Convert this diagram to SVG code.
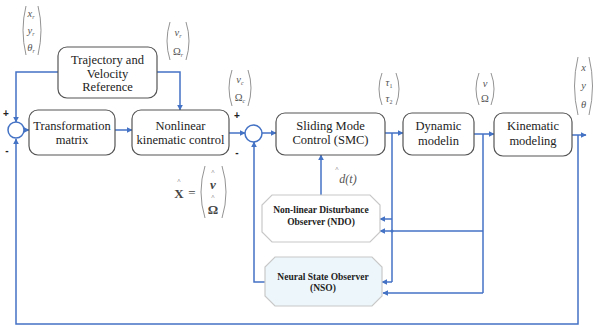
<svg xmlns="http://www.w3.org/2000/svg" width="593" height="327" viewBox="0 0 593 327">
<defs>
<marker id="ah" viewBox="0 0 10 10" refX="9" refY="5" markerWidth="6" markerHeight="6" markerUnits="userSpaceOnUse" orient="auto">
<path d="M0,0 L10,5 L0,10 z" fill="#4472c4"/>
</marker>
<style>
.box{fill:#fff;stroke:#555;stroke-width:1.2}
.obs{stroke:#c8c8c8;stroke-width:1.2}
.t{font-family:"Liberation Serif",serif;font-size:12.5px;fill:#222;text-anchor:middle}
.ob{font-family:"Liberation Serif",serif;font-size:9.5px;font-weight:bold;fill:#222;text-anchor:middle}
.m{font-family:"Liberation Serif",serif;font-style:italic;font-size:10.5px;fill:#555;text-anchor:middle}
.mu{font-family:"Liberation Serif",serif;font-size:10.5px;fill:#555;text-anchor:middle}
.s{font-size:6px}
.pm{font-family:"Liberation Sans",sans-serif;font-size:10px;font-weight:bold;fill:#222;text-anchor:middle}
.par{fill:none;stroke:#777;stroke-width:0.8}
.c{fill:none;stroke:#4472c4;stroke-width:1.5}
.ca{fill:none;stroke:#4472c4;stroke-width:1.5;marker-end:url(#ah)}
.hat{font-family:"Liberation Serif",serif;font-size:7px;fill:#555;text-anchor:middle}
</style>
</defs>

<g id="connectors">
<path class="ca" d="M58,72 H16 V122"/>
<path class="ca" d="M157,72 H180 V110"/>
<path class="ca" d="M24,130 H29"/>
<path class="ca" d="M115,130 H132"/>
<path class="ca" d="M229,133 H245"/>
<path class="ca" d="M262,133 H276"/>
<path class="ca" d="M385,133 H403"/>
<path class="ca" d="M474,134 H494"/>
<path class="ca" d="M572,135 H586"/>
<path class="c" d="M392,133 V282"/>
<path class="ca" d="M392,219 H380"/>
<path class="ca" d="M392,282 H382"/>
<path class="c" d="M483,134 V293"/>
<path class="ca" d="M483,231 H380"/>
<path class="ca" d="M483,293 H383"/>
<path class="ca" d="M578,135 V324 H16 V139"/>
<path class="ca" d="M265,282 H254 V142"/>
<path class="ca" d="M321,195 V155"/>
<circle cx="392" cy="231" r="1.5" fill="#4472c4"/>
</g>

<g id="sum1">
<circle cx="16" cy="130" r="8" fill="#fff" stroke="#4472c4" stroke-width="1.5"/>
<text class="pm" x="6" y="117">+</text>
<text class="pm" x="7" y="154">-</text>
</g>
<g id="sum2">
<circle cx="253.5" cy="133.5" r="8.5" fill="#fff" stroke="#4472c4" stroke-width="1.5"/>
<text class="pm" x="237" y="119">+</text>
<text class="pm" x="237" y="156">-</text>
</g>

<g id="trajectory">
<rect class="box" x="58" y="47" width="99" height="51" rx="9"/>
<text class="t" x="107.5" y="64">Trajectory and</text>
<text class="t" x="107.5" y="77.5">Velocity</text>
<text class="t" x="107.5" y="91">Reference</text>
</g>
<g id="transformation">
<rect class="box" x="29" y="110" width="86" height="45" rx="9"/>
<text class="t" x="72" y="130">Transformation</text>
<text class="t" x="72" y="144">matrix</text>
</g>
<g id="nonlinear">
<rect class="box" x="132" y="110" width="97" height="45" rx="9"/>
<text class="t" x="180.5" y="130">Nonlinear</text>
<text class="t" x="180.5" y="144">kinematic control</text>
</g>
<g id="smc">
<rect class="box" x="276" y="113" width="109" height="42" rx="9"/>
<text class="t" x="330.5" y="130">Sliding Mode</text>
<text class="t" x="330.5" y="144">Control (SMC)</text>
</g>
<g id="dynamic">
<rect class="box" x="403" y="113" width="71" height="42" rx="9"/>
<text class="t" x="438.5" y="130">Dynamic</text>
<text class="t" x="438.5" y="145">modelin</text>
</g>
<g id="kinematic">
<rect class="box" x="494" y="113" width="78" height="43" rx="9"/>
<text class="t" x="533" y="130">Kinematic</text>
<text class="t" x="533" y="145">modeling</text>
</g>
<g id="ndo">
<path class="obs" fill="#fff" d="M272,195 H370 L380,205 V232 L370,242 H272 L262,232 V205 Z"/>
<text class="ob" x="321" y="213">Non-linear Disturbance</text>
<text class="ob" x="321" y="225">Observer (NDO)</text>
</g>
<g id="nso">
<path class="obs" fill="#edf7fb" d="M275,257 H372 L382,267 V296 L372,306 H275 L265,296 V267 Z"/>
<text class="ob" x="323" y="280">Neural State Observer</text>
<text class="ob" x="323" y="291">(NSO)</text>
</g>

<g id="labels">
<path class="par" d="M26,6 Q20,30 26,55"/>
<path class="par" d="M38,6 Q44,30 38,55"/>
<text class="m" x="31" y="17">x<tspan class="s" dy="2">r</tspan></text>
<text class="m" x="31" y="34">y<tspan class="s" dy="2">r</tspan></text>
<text class="m" x="31" y="51">θ<tspan class="s" dy="2">r</tspan></text>
<path class="par" d="M170,22 Q164,41 170,60"/>
<path class="par" d="M186,22 Q192,41 186,60"/>
<text class="m" x="178" y="36">v<tspan class="s" dy="2">r</tspan></text>
<text class="mu" x="178" y="55">Ω<tspan class="s" dy="2" font-style="italic">r</tspan></text>
<path class="par" d="M232,70 Q226,88 232,106"/>
<path class="par" d="M248,70 Q254,88 248,106"/>
<text class="m" x="240" y="83">v<tspan class="s" dy="2">c</tspan></text>
<text class="mu" x="240" y="101">Ω<tspan class="s" dy="2" font-style="italic">c</tspan></text>
<path class="par" d="M382,73 Q376,89 382,105"/>
<path class="par" d="M396,73 Q402,89 396,105"/>
<text class="m" x="389" y="86">τ<tspan class="s" dy="2" font-style="normal">1</tspan></text>
<text class="m" x="389" y="102">τ<tspan class="s" dy="2" font-style="normal">2</tspan></text>
<path class="par" d="M479,73 Q473,89 479,105"/>
<path class="par" d="M491,73 Q497,89 491,105"/>
<text class="m" x="485" y="87">v</text>
<text class="mu" x="485" y="102">Ω</text>
<path class="par" d="M578,57 Q571,86 578,115"/>
<path class="par" d="M589,57 Q596,86 589,115"/>
<text class="m" x="583.5" y="71">x</text>
<text class="m" x="583.5" y="89">y</text>
<text class="m" x="583.5" y="108">θ</text>
<text class="hat" x="179" y="183">^</text>
<text x="179" y="198" font-family="Liberation Serif,serif" font-size="13" font-weight="bold" fill="#444" text-anchor="middle">X</text>
<text x="192" y="197" font-family="Liberation Serif,serif" font-size="13" fill="#444" text-anchor="middle">=</text>
<path class="par" d="M205,166 Q197,192 205,218"/>
<path class="par" d="M222,166 Q230,192 222,218"/>
<text class="hat" x="213" y="174">^</text>
<text x="213" y="189" font-family="Liberation Serif,serif" font-size="13" font-style="italic" font-weight="bold" fill="#444" text-anchor="middle">v</text>
<text class="hat" x="213" y="199">^</text>
<text x="213" y="214" font-family="Liberation Serif,serif" font-size="13" font-weight="bold" fill="#444" text-anchor="middle">Ω</text>
<text class="hat" x="337" y="171">^</text>
<text x="348" y="183" font-family="Liberation Serif,serif" font-size="12" font-style="italic" fill="#555" text-anchor="middle">d(t)</text>
</g>
</svg>
